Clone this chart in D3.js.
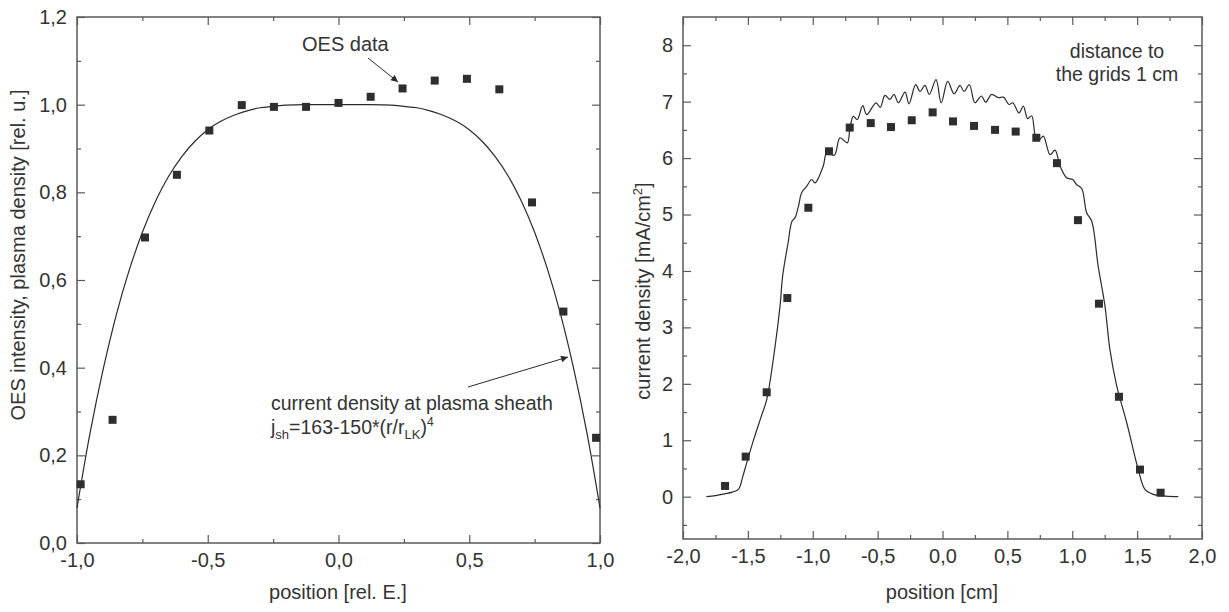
<!DOCTYPE html>
<html>
<head>
<meta charset="utf-8">
<script src="https://cdn.jsdelivr.net/npm/d3@7"></script>
<style>
  body { margin: 0; background: #fff; }
  svg text { font-family: "Liberation Sans", Arial, Helvetica, sans-serif; fill: #333; }
</style>
</head>
<body>
<div class="chart"></div>
<script>
// DATA ------------------------------------

// left panel: OES measurements
const oesX = [-0.986, -0.864, -0.74, -0.618, -0.494, -0.37, -0.247, -0.124, 0, 0.123, 0.245, 0.368, 0.491, 0.615, 0.74, 0.86, 0.985];
const oesY = [0.134, 0.281, 0.697, 0.840, 0.941, 0.999, 0.995, 0.995, 1.004, 1.018, 1.037, 1.055, 1.059, 1.035, 0.777, 0.528, 0.240];

// left panel: sheath current density curve
const sheathX = [-1, -0.95, -0.9, -0.85, -0.8, -0.75, -0.7, -0.65, -0.6, -0.55, -0.5, -0.45, -0.4, -0.35, -0.3, -0.25, -0.2, -0.1, 0,
                 0.1, 0.2, 0.25, 0.3, 0.35, 0.4, 0.45, 0.5, 0.55, 0.6, 0.65, 0.7, 0.75, 0.8, 0.85, 0.9, 0.95, 1];
const sheathY = [0.080, 0.251, 0.396, 0.520, 0.623, 0.709, 0.779, 0.836, 0.881, 0.916, 0.943, 0.962, 0.976, 0.986, 0.993, 0.996, 0.999, 1.0, 1.0,
                 1.0, 0.999, 0.996, 0.993, 0.986, 0.976, 0.962, 0.943, 0.916, 0.881, 0.836, 0.779, 0.709, 0.623, 0.520, 0.396, 0.251, 0.080];

// right panel: measured current density [mA/cm2]
const measX = [-1.676, -1.517, -1.355, -1.196, -1.034, -0.875, -0.715, -0.553, -0.397, -0.237, -0.076,
               0.081, 0.243, 0.405, 0.564, 0.723, 0.882, 1.044, 1.206, 1.360, 1.522, 1.681];
const measY = [0.19, 0.71, 1.85, 3.52, 5.12, 6.12, 6.54, 6.62, 6.55, 6.67, 6.81,
               6.65, 6.57, 6.50, 6.47, 6.36, 5.91, 4.90, 3.42, 1.77, 0.48, 0.07];

// right panel: simulated current density (wavy line)
const simX = [-1.82, -1.75, -1.68, -1.62, -1.57, -1.54, -1.509, -1.45, -1.40, -1.355, -1.29, -1.252, -1.232, -1.19, -1.16, -1.137, -1.11, -1.085,
              -1.047, -1.008, -0.983, -0.919, -0.892, -0.834, -0.79, -0.734, -0.713, -0.687, -0.657, -0.615, -0.584, -0.513, -0.48, -0.443,
              -0.405, -0.374, -0.34, -0.289, -0.258, -0.207, -0.173, -0.135, -0.102, -0.05, -0.01, 0.04, 0.089, 0.135, 0.166, 0.207, 0.25,
              0.30, 0.333, 0.379, 0.43, 0.47, 0.513, 0.541, 0.59, 0.623, 0.656, 0.687, 0.72, 0.745, 0.777, 0.829, 0.867, 0.906, 0.957,
              1.003, 1.034, 1.073, 1.111, 1.15, 1.2, 1.252, 1.29, 1.343, 1.42, 1.509, 1.56, 1.625, 1.72, 1.817];
const simY = [0.00, 0.02, 0.05, 0.08, 0.14, 0.35, 0.60, 1.05, 1.40, 1.72, 2.67, 3.38, 3.91, 4.50, 4.88, 4.94, 5.15, 5.39,
              5.50, 5.62, 5.56, 5.86, 6.09, 6.05, 6.36, 6.27, 6.54, 6.74, 6.68, 6.93, 6.77, 6.98, 6.90, 7.11,
              7.04, 7.13, 6.98, 7.17, 6.96, 7.30, 7.18, 7.29, 7.13, 7.39, 6.98, 7.36, 7.14, 7.29, 7.18, 7.30, 6.98,
              7.10, 6.99, 7.13, 7.07, 7.08, 6.95, 6.98, 6.80, 6.92, 6.70, 6.75, 6.35, 6.32, 6.39, 6.06, 6.14, 5.86, 5.65,
              5.62, 5.53, 5.46, 5.03, 4.88, 4.08, 3.38, 2.61, 1.96, 1.31, 0.48, 0.13, 0.04, 0.01, 0.00];

// tick values
const leftXMajor = [-1, -0.5, 0, 0.5, 1];
const leftXMinor = [-0.75, -0.25, 0.25, 0.75];
const leftYMajor = [0, 0.2, 0.4, 0.6, 0.8, 1.0, 1.2];
const leftYMinor = [0.1, 0.3, 0.5, 0.7, 0.9, 1.1];
const rightXMajor = [-2, -1.5, -1, -0.5, 0, 0.5, 1, 1.5, 2];
const rightXMinor = [-1.75, -1.25, -0.75, -0.25, 0.25, 0.75, 1.25, 1.75];
const rightYMajor = [0, 1, 2, 3, 4, 5, 6, 7, 8];
const rightYMinor = [-0.5, 0.5, 1.5, 2.5, 3.5, 4.5, 5.5, 6.5, 7.5];

// CHART INIT ------------------------------

const W = 1229, H = 612;
const axisColor = "#5a5a5a";
const inkColor = "#2b2b2b";
const fontSize = 20;

const svg = d3.select(".chart").append("svg")
    .attr("width", W)
    .attr("height", H);

const defs = svg.append("defs");
defs.append("marker")
    .attr("id", "arrow")
    .attr("viewBox", "0 0 10 10")
    .attr("refX", 10).attr("refY", 5)
    .attr("markerWidth", 9).attr("markerHeight", 7)
    .attr("markerUnits", "userSpaceOnUse")
    .attr("orient", "auto")
    .append("path")
    .attr("d", "M0,0 L10,5 L0,10 Z")
    .attr("fill", inkColor);

const commaFmt = d => (d < 0 ? "-" : "") + Math.abs(d).toFixed(1).replace(".", ",");
const intFmt = d => (d < 0 ? "-" : "") + Math.abs(d).toFixed(0);

function panel(box, xDomain, yDomain, ticks) {
    const x = d3.scaleLinear().domain(xDomain).range([box.left, box.right]);
    const y = d3.scaleLinear().domain(yDomain).range([box.bottom, box.top]);
    const g = svg.append("g");

    // bottom axis with labels
    g.append("g")
        .attr("transform", `translate(0,${box.bottom})`)
        .call(d3.axisBottom(x).tickValues(ticks.xMajor).tickSize(-8).tickSizeOuter(0)
            .tickPadding(10).tickFormat(ticks.xFmt));
    g.append("g")
        .attr("transform", `translate(0,${box.bottom})`)
        .call(d3.axisBottom(x).tickValues(ticks.xMinor).tickSize(-4).tickSizeOuter(0).tickFormat(""));
    // top
    g.append("g")
        .attr("transform", `translate(0,${box.top})`)
        .call(d3.axisTop(x).tickValues(ticks.xMajor).tickSize(-8).tickSizeOuter(0).tickFormat(""));
    g.append("g")
        .attr("transform", `translate(0,${box.top})`)
        .call(d3.axisTop(x).tickValues(ticks.xMinor).tickSize(-4).tickSizeOuter(0).tickFormat(""));
    // left axis with labels
    g.append("g")
        .attr("transform", `translate(${box.left},0)`)
        .call(d3.axisLeft(y).tickValues(ticks.yMajor).tickSize(-8).tickSizeOuter(0)
            .tickPadding(10).tickFormat(ticks.yFmt));
    g.append("g")
        .attr("transform", `translate(${box.left},0)`)
        .call(d3.axisLeft(y).tickValues(ticks.yMinor).tickSize(-4).tickSizeOuter(0).tickFormat(""));
    // right
    g.append("g")
        .attr("transform", `translate(${box.right},0)`)
        .call(d3.axisRight(y).tickValues(ticks.yMajor).tickSize(-8).tickSizeOuter(0).tickFormat(""));
    g.append("g")
        .attr("transform", `translate(${box.right},0)`)
        .call(d3.axisRight(y).tickValues(ticks.yMinor).tickSize(-4).tickSizeOuter(0).tickFormat(""));

    g.selectAll(".domain").remove();
    g.selectAll(".tick line").attr("stroke", axisColor).attr("stroke-width", 1.2);
    g.selectAll(".tick text")
        .attr("font-family", "Liberation Sans, Arial, sans-serif")
        .attr("font-size", fontSize)
        .attr("fill", "#333");

    // frame
    g.append("rect")
        .attr("x", box.left).attr("y", box.top)
        .attr("width", box.right - box.left).attr("height", box.bottom - box.top)
        .attr("fill", "none").attr("stroke", axisColor).attr("stroke-width", 1.5);

    return {x, y, g};
}

// LEFT PANEL ------------------------------

const L = panel({left: 77, right: 600, top: 17, bottom: 543}, [-1, 1], [0, 1.2],
    {xMajor: leftXMajor, xMinor: leftXMinor, yMajor: leftYMajor, yMinor: leftYMinor, xFmt: commaFmt, yFmt: commaFmt});

const sheath = sheathX.map((d, i) => [d, sheathY[i]]);
L.g.append("path")
    .datum(sheath)
    .attr("fill", "none")
    .attr("stroke", inkColor)
    .attr("stroke-width", 1.2)
    .attr("d", d3.line().x(d => L.x(d[0])).y(d => L.y(d[1])).curve(d3.curveCatmullRom));

L.g.selectAll(".oes")
    .data(oesX.map((d, i) => [d, oesY[i]]))
    .enter().append("rect")
    .attr("class", "oes")
    .attr("x", d => L.x(d[0]) - 4)
    .attr("y", d => L.y(d[1]) - 4)
    .attr("width", 8).attr("height", 8)
    .attr("fill", "#2e2e2e");

svg.append("text")
    .attr("transform", "translate(25,255) rotate(-90)")
    .attr("text-anchor", "middle")
    .attr("font-size", fontSize)
    .text("OES intensity, plasma density [rel. u.]");

svg.append("text")
    .attr("x", 338).attr("y", 599)
    .attr("text-anchor", "middle")
    .attr("font-size", fontSize)
    .text("position [rel. E.]");

// annotations
svg.append("text")
    .attr("x", 302).attr("y", 51)
    .attr("font-size", fontSize)
    .text("OES data");
svg.append("line")
    .attr("x1", 368).attr("y1", 58).attr("x2", 398).attr("y2", 82)
    .attr("stroke", inkColor).attr("stroke-width", 1)
    .attr("marker-end", "url(#arrow)");

svg.append("text")
    .attr("x", 271).attr("y", 410)
    .attr("font-size", 19.5)
    .text("current density at plasma sheath");

const formula = svg.append("text")
    .attr("x", 271).attr("y", 434)
    .attr("font-size", 19.5);
formula.append("tspan").text("j");
formula.append("tspan").attr("font-size", 13).attr("dy", 5).text("sh");
formula.append("tspan").attr("dy", -5).text("=163-150*(r/r");
formula.append("tspan").attr("font-size", 13).attr("dy", 5).text("LK");
formula.append("tspan").attr("dy", -5).text(")");
formula.append("tspan").attr("font-size", 12).attr("dy", -8).text("4");

svg.append("line")
    .attr("x1", 468).attr("y1", 387).attr("x2", 568).attr("y2", 357)
    .attr("stroke", inkColor).attr("stroke-width", 1)
    .attr("marker-end", "url(#arrow)");

// RIGHT PANEL -----------------------------

const R = panel({left: 683, right: 1202, top: 17, bottom: 539}, [-2, 2], [-0.75, 8.5],
    {xMajor: rightXMajor, xMinor: rightXMinor, yMajor: rightYMajor, yMinor: rightYMinor, xFmt: commaFmt, yFmt: intFmt});

R.g.append("path")
    .datum(simX.map((d, i) => [d, simY[i]]))
    .attr("fill", "none")
    .attr("stroke", inkColor)
    .attr("stroke-width", 1.2)
    .attr("d", d3.line().x(d => R.x(d[0])).y(d => R.y(d[1])).curve(d3.curveCatmullRom.alpha(0.5)));

R.g.selectAll(".meas")
    .data(measX.map((d, i) => [d, measY[i]]))
    .enter().append("rect")
    .attr("class", "meas")
    .attr("x", d => R.x(d[0]) - 4)
    .attr("y", d => R.y(d[1]) - 4)
    .attr("width", 8).attr("height", 8)
    .attr("fill", "#2e2e2e");

const yTitle = svg.append("text")
    .attr("transform", "translate(650,291) rotate(-90)")
    .attr("text-anchor", "middle")
    .attr("font-size", fontSize);
yTitle.append("tspan").text("current density [mA/cm");
yTitle.append("tspan").attr("font-size", 13).attr("dy", -8).text("2");
yTitle.append("tspan").attr("dy", 8).text("]");

svg.append("text")
    .attr("x", 942).attr("y", 599)
    .attr("text-anchor", "middle")
    .attr("font-size", fontSize)
    .text("position [cm]");

svg.append("text")
    .attr("x", 1117).attr("y", 58)
    .attr("text-anchor", "middle")
    .attr("font-size", 19.5)
    .text("distance to");
svg.append("text")
    .attr("x", 1117).attr("y", 81)
    .attr("text-anchor", "middle")
    .attr("font-size", 19.5)
    .text("the grids 1 cm");
</script>
</body>
</html>
